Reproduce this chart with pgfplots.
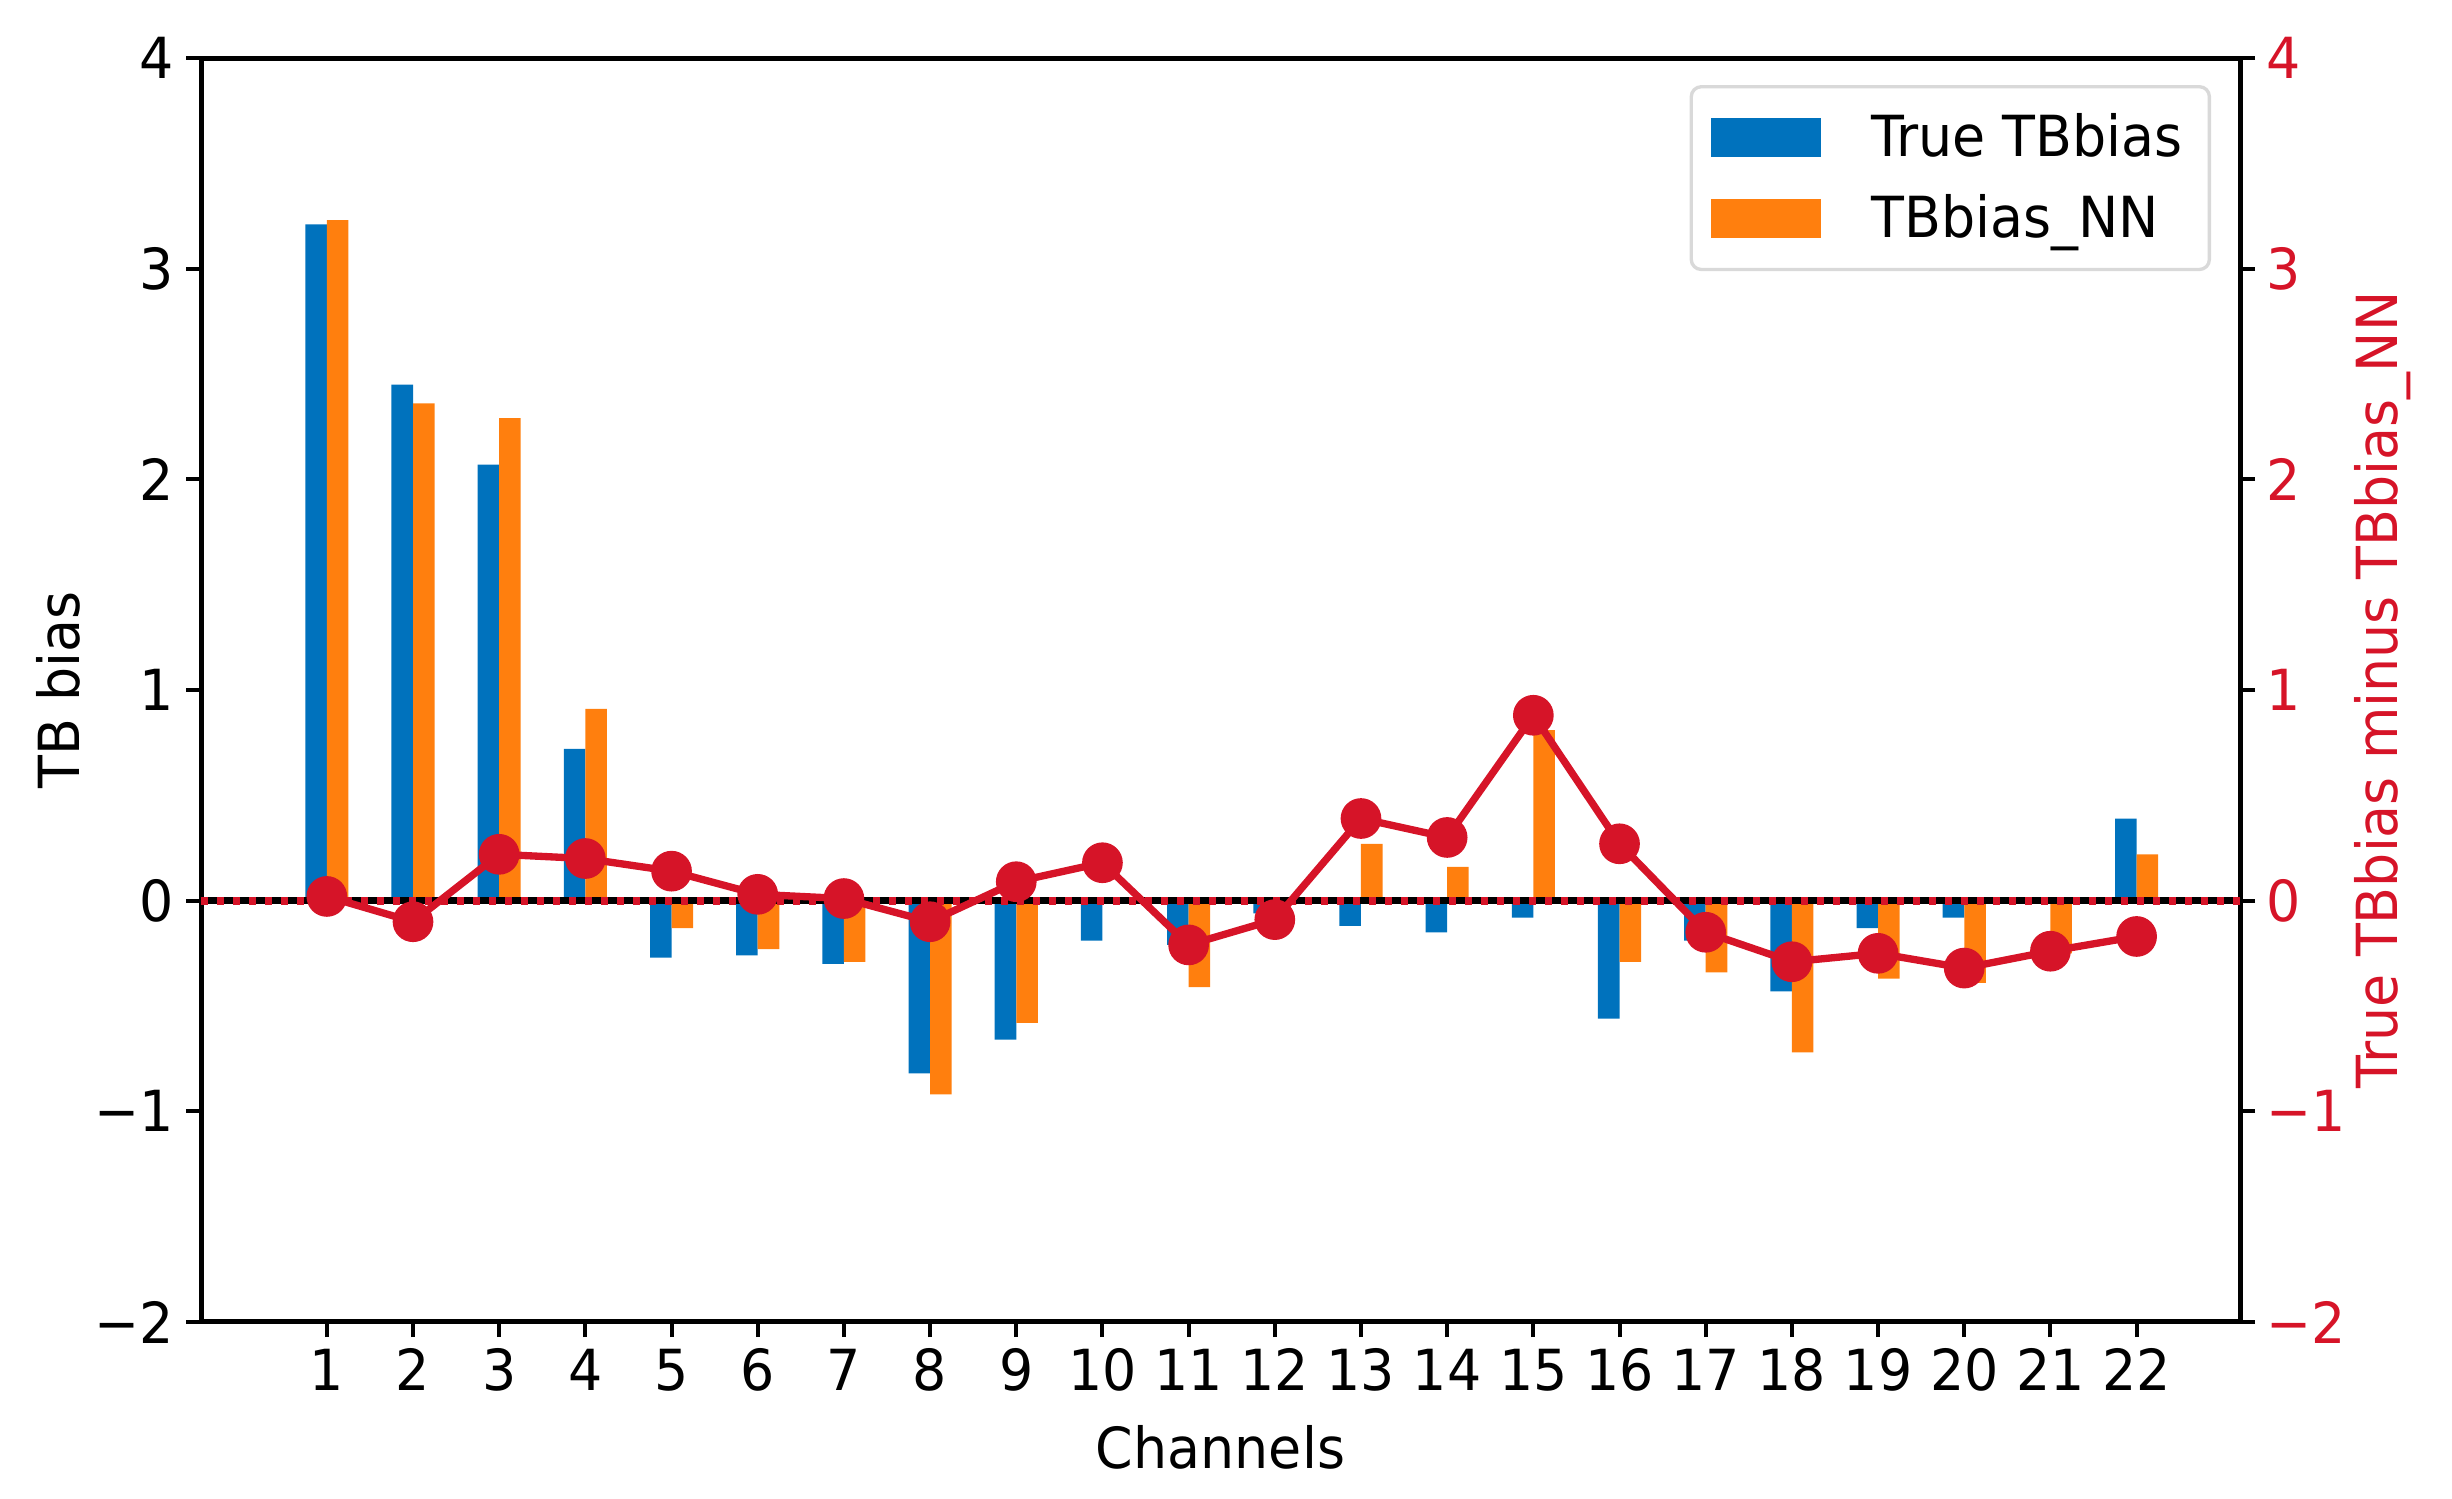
\documentclass[border=0pt]{standalone}
\usepackage{pgfplots}
\pgfplotsset{compat=1.18}
\usepackage{fontspec}
\setmainfont{DejaVu Sans}[FakeStretch=0.95]
\definecolor{barblue}{RGB}{0,114,189}
\definecolor{barorange}{RGB}{255,127,14}
\definecolor{myred}{RGB}{214,20,40}
\newcommand{\ff}{\fontsize{17}{20}\selectfont}
\begin{document}
\begin{tikzpicture}
\path[use as bounding box] (0,0) rectangle (735.6pt,449.4pt);
\pgfplotsset{
  common/.style={
    at={(60.3pt,52.8pt)}, anchor=south west,
    scale only axis, width=611.7pt, height=379.2pt,
    xmin=-0.46, xmax=23.2, ymin=-2, ymax=4,
    ytick={-2,-1,0,1,2,3,4},
    yticklabels={−2,−1,0,1,2,3,4},
    tick align=outside, major tick length=4.5pt,
    tick style={black, line width=1.2pt},
    axis line style={line width=1.5pt},
    every tick label/.append style={font=\ff},
    label style={font=\ff},
    /pgf/number format/assume math mode=true,
  }
}
\begin{axis}[common,
  xtick={1,...,22},
  xtick pos=bottom, ytick pos=left,
  xlabel={Channels}, ylabel={TB bias},
  xlabel style={at={(axis description cs:0.5,-0.099)}, anchor=center},
  ylabel style={at={(axis description cs:-0.07,0.5)}, anchor=center},
  legend style={at={(axis description cs:0.9858,0.9786)}, anchor=north east,
    draw=black!15, line width=1pt, rounded corners=3pt, font=\ff, inner xsep=6pt, inner ysep=6pt,
    row sep=6pt},
  legend cell align=left,
  legend image code/.code={\fill[#1, sharp corners] (0pt,-5.9pt) rectangle (33pt,5.9pt); \path (46pt,0pt);},
]
\addplot[ybar, bar width=0.25, bar shift=-0.125, fill=barblue, draw=none] coordinates {
(1,3.21) (2,2.45) (3,2.07) (4,0.72) (5,-0.27) (6,-0.26) (7,-0.30) (8,-0.82)
(9,-0.66) (10,-0.19) (11,-0.21) (12,-0.06) (13,-0.12) (14,-0.15) (15,-0.08)
(16,-0.56) (17,-0.19) (18,-0.43) (19,-0.13) (20,-0.08) (21,-0.01) (22,0.39)};
\addlegendentry{True TBbias}
\addplot[ybar, bar width=0.25, bar shift=0.125, fill=barorange, draw=none] coordinates {
(1,3.23) (2,2.36) (3,2.29) (4,0.91) (5,-0.13) (6,-0.23) (7,-0.29) (8,-0.92)
(9,-0.58) (10,0.0) (11,-0.41) (12,-0.02) (13,0.27) (14,0.16) (15,0.81)
(16,-0.29) (17,-0.34) (18,-0.72) (19,-0.37) (20,-0.39) (21,-0.25) (22,0.22)};
\addlegendentry{TBbias\_NN}
\addplot[black, line width=2pt, forget plot] coordinates {(-0.46,0) (23.2,0)};
\end{axis}
\begin{axis}[common,
  axis x line=none, axis y line*=right,
  yticklabel style={myred},
  ylabel={True TBbias minus TBbias\_NN},
  ylabel style={myred, at={(axis description cs:1.07,0.5)}, anchor=center},
]
\addplot[myred, line width=2.4pt, dash pattern=on 2.2pt off 2.6pt, forget plot] coordinates {(-0.46,0) (23.2,0)};
\addplot[myred, line width=2.2pt, mark=*, mark size=5pt, mark options={solid}] coordinates {
(1,0.02) (2,-0.10) (3,0.22) (4,0.20) (5,0.14) (6,0.03) (7,0.01) (8,-0.10)
(9,0.09) (10,0.18) (11,-0.21) (12,-0.09) (13,0.39) (14,0.30) (15,0.88)
(16,0.27) (17,-0.15) (18,-0.29) (19,-0.25) (20,-0.32) (21,-0.24) (22,-0.17)};
\end{axis}
\end{tikzpicture}
\end{document}
